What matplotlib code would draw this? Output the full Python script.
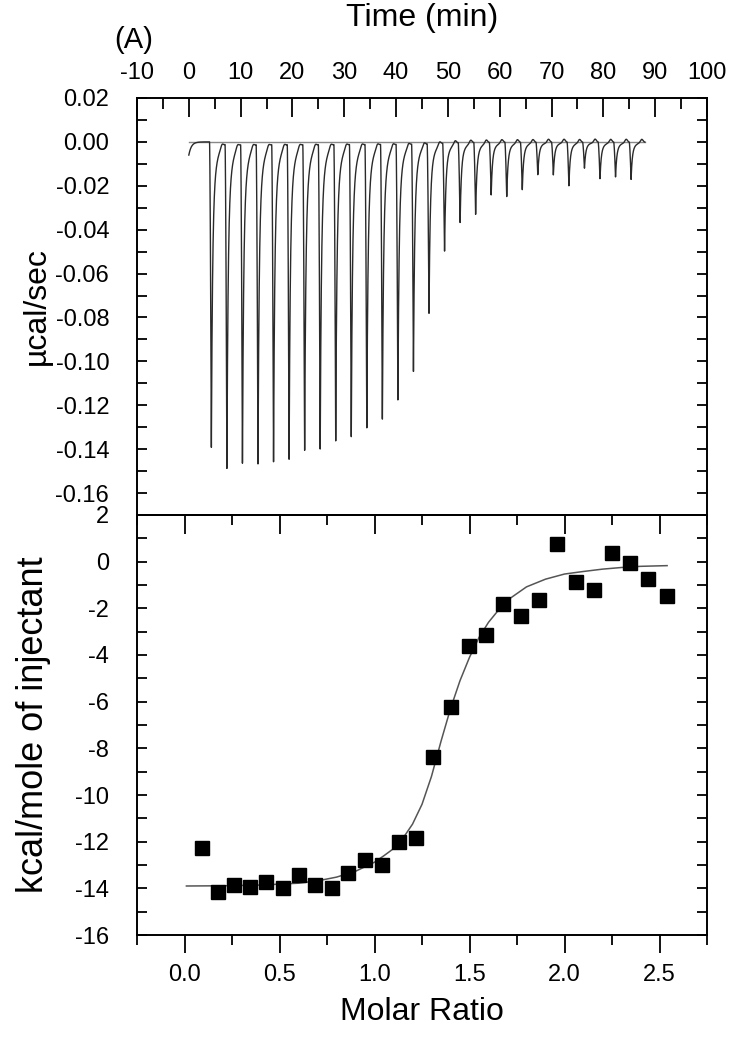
import numpy as np
import matplotlib
matplotlib.use("Agg")
import matplotlib.pyplot as plt
from matplotlib.ticker import MultipleLocator, FormatStrFormatter

plt.rcParams['font.family'] = ['Liberation Sans', 'DejaVu Sans']
plt.rcParams['axes.unicode_minus'] = False

# raw ITC trace: injection start times (min) and peak minima (ucal/sec)
inj_time = [4.0, 7.0, 10.0, 13.0, 16.0, 19.0, 22.0, 25.0, 28.0, 31.0,
            34.0, 37.0, 40.0, 43.0, 46.0, 49.0, 52.0, 55.0, 58.0, 61.0,
            64.0, 67.0, 70.0, 73.0, 76.0, 79.0, 82.0, 85.0]
peak_min = [-0.140, -0.150, -0.148, -0.147, -0.145, -0.145, -0.142, -0.141,
            -0.136, -0.134, -0.131, -0.128, -0.118, -0.104, -0.078, -0.050,
            -0.037, -0.033, -0.024, -0.025, -0.022, -0.015, -0.015, -0.020,
            -0.012, -0.017, -0.016, -0.017]
trace_end = 88.0

# integrated heats
molar_ratio = [0.093, 0.177, 0.26, 0.345, 0.43, 0.516, 0.603, 0.688, 0.776,
               0.863, 0.95, 1.042, 1.129, 1.22, 1.31, 1.40, 1.496, 1.587,
               1.678, 1.773, 1.868, 1.961, 2.058, 2.153, 2.248, 2.345, 2.442,
               2.541]
heat = [-12.26, -14.14, -13.86, -13.96, -13.71, -14.0, -13.41, -13.84, -14.0,
        -13.34, -12.77, -13.0, -12.0, -11.86, -8.36, -6.23, -3.6, -3.14,
        -1.81, -2.34, -1.64, 0.76, -0.87, -1.2, 0.37, -0.06, -0.74, -1.49]

# fitted curve
fit_x = [0.01, 0.2, 0.4, 0.6, 0.7, 0.8, 0.9, 1.0, 1.05, 1.1, 1.15, 1.2, 1.25,
         1.3, 1.35, 1.4, 1.45, 1.5, 1.55, 1.6, 1.65, 1.7, 1.8, 1.9, 2.0, 2.1,
         2.2, 2.3, 2.4, 2.54]
fit_y = [-13.90, -13.89, -13.86, -13.78, -13.68, -13.52, -13.27, -12.88,
         -12.6, -12.3, -11.85, -11.25, -10.4, -9.2, -7.7, -6.3, -5.1, -4.1,
         -3.25, -2.6, -2.1, -1.65, -1.08, -0.75, -0.53, -0.42, -0.32, -0.25,
         -0.2, -0.17]

# build the thermogram trace from the peaks
t = np.linspace(0, trace_end, 9000)
trace = np.zeros_like(t)
for t0, h in zip(inj_time, peak_min):
    tm = t0 + 0.35
    dt = t - t0
    down = (dt >= 0) & (t < tm)
    trace[down] += h * (dt[down] / 0.35) ** 1.5
    up = t >= tm
    du = t[up] - tm
    trace[up] += h * (0.75 * np.exp(-du / 0.22) + 0.25 * np.exp(-du / 0.8))
    trace += 0.0015 * np.exp(-((t - (t0 + 2.4)) / 0.35) ** 2)
# small initial dip
trace += -0.006 * np.exp(-t / 0.5)

fig = plt.figure(figsize=(7.39, 10.5), dpi=100)
L, W = 137 / 739, 570 / 739
ax1 = fig.add_axes([L, 1 - 515 / 1050, W, 417 / 1050])
ax2 = fig.add_axes([L, 1 - 935 / 1050, W, 420 / 1050])

# top panel
ax1.plot([0, trace_end], [0, 0], color='#888888', lw=1.0)
ax1.plot(t, trace, color='#2a2a2a', lw=1.0)
ax1.set_xlim(-10, 100)
ax1.set_ylim(-0.17, 0.02)
ax1.xaxis.set_major_locator(MultipleLocator(10))
ax1.xaxis.set_minor_locator(MultipleLocator(5))
ax1.yaxis.set_major_locator(MultipleLocator(0.02))
ax1.yaxis.set_minor_locator(MultipleLocator(0.01))
ax1.yaxis.set_major_formatter(FormatStrFormatter('%.2f'))
ax1.tick_params(axis='x', which='both', direction='in', top=True, bottom=False,
                labeltop=True, labelbottom=False, labelsize=17, pad=10, width=1.3)
ax1.tick_params(axis='x', which='major', length=14)
ax1.tick_params(axis='x', which='minor', length=8)
ax1.tick_params(axis='y', which='both', direction='in', left=True, right=True,
                length=7, width=1.3, labelsize=17, pad=20)
ax1.set_ylabel('µcal/sec', fontsize=23)
ax1.yaxis.set_label_coords(-0.150, 0.5)

# bottom panel
ax2.plot(fit_x, fit_y, color='#555555', lw=1.1)
ax2.plot(molar_ratio, heat, 's', ms=10, color='black')
ax2.set_xlim(-0.25, 2.75)
ax2.set_ylim(-16, 2)
ax2.xaxis.set_major_locator(MultipleLocator(0.5))
ax2.xaxis.set_minor_locator(MultipleLocator(0.25))
ax2.xaxis.set_major_formatter(FormatStrFormatter('%.1f'))
ax2.yaxis.set_major_locator(MultipleLocator(2))
ax2.yaxis.set_minor_locator(MultipleLocator(1))
ax2.tick_params(axis='x', which='both', direction='out', labelsize=17, pad=8, width=1.3)
ax2.tick_params(axis='x', which='major', length=13)
ax2.tick_params(axis='x', which='minor', length=7)
ax2.tick_params(axis='y', which='both', direction='in', left=True, right=True,
                length=7, width=1.3, labelsize=17, pad=20)
top = ax2.secondary_xaxis('top')
top.xaxis.set_major_locator(MultipleLocator(0.5))
top.xaxis.set_minor_locator(MultipleLocator(0.25))
top.tick_params(axis='x', which='both', direction='in', labeltop=False, width=1.3)
top.tick_params(axis='x', which='major', length=14)
top.tick_params(axis='x', which='minor', length=7)
ax2.set_ylabel('kcal/mole of injectant', fontsize=26)
ax2.yaxis.set_label_coords(-0.150, 0.5)

for ax in (ax1, ax2):
    for s in ax.spines.values():
        s.set_linewidth(1.4)
for s in top.spines.values():
    s.set_linewidth(1.4)

fig.text(422 / 739, 1 - 18 / 1050, 'Time (min)', fontsize=23, ha='center', va='center')
fig.text(134 / 739, 1 - 40 / 1050, '(A)', fontsize=21, ha='center', va='center')
fig.text(422 / 739, 1 - 1012 / 1050, 'Molar Ratio', fontsize=23, ha='center', va='center')

fig.savefig('out.png', dpi=100)
